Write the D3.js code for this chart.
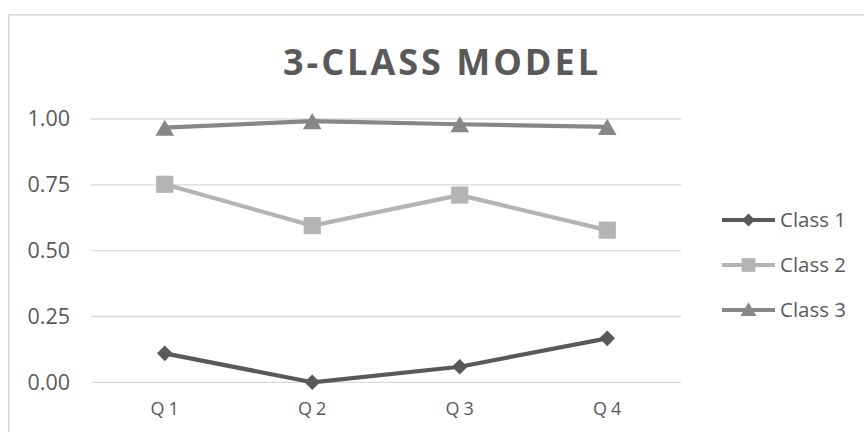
<!DOCTYPE html>
<html>
<head>
<meta charset="utf-8">
<script src="https://cdn.jsdelivr.net/npm/d3@7"></script>
<style>
  html, body { margin: 0; padding: 0; background: #fff; }
  svg { display: block; }
  text { font-family: "Open Sans", "Liberation Sans", sans-serif; fill: #595959; }
</style>
</head>
<body>
<svg id="chart" width="864" height="432"></svg>
<script>
// Data
const categories = ["Q1", "Q2", "Q3", "Q4"];
const seriesNames = ["Class 1", "Class 2", "Class 3"];
const class1 = [0.110, 0.000, 0.059, 0.167];
const class2 = [0.752, 0.595, 0.711, 0.578];
const class3 = [0.967, 0.992, 0.980, 0.970];
const yTicks = [0, 0.25, 0.5, 0.75, 1.0];
const title = "3-CLASS MODEL";

const seriesValues = [class1, class2, class3];
const seriesColors = ["#595959", "#b4b4b4", "#878787"];
const seriesSymbols = [d3.symbolDiamond2, d3.symbolSquare, d3.symbolTriangle];
const symbolSizes = [155, 295, 150];

// Triangles are drawn around their centroid; shift them so the box is centred.
const symbolOffset = (s) => s === 2 ? Math.sqrt(symbolSizes[2] / (Math.sqrt(3) * 3)) / 2 : 0;

const svg = d3.select("#chart");
const W = 864, H = 432;
const plot = { left: 91, right: 681, top: 119, bottom: 382.3 };

// Chart frame
svg.append("rect")
  .attr("x", 8.75).attr("y", 14.75)
  .attr("width", W).attr("height", H)
  .attr("fill", "none")
  .attr("stroke", "#d9d9d9")
  .attr("stroke-width", 1.5);

// Title
svg.append("text")
  .attr("x", 442).attr("y", 75)
  .attr("text-anchor", "middle")
  .style("font-size", "36px")
  .style("font-weight", "700")
  .style("letter-spacing", "3px")
  .text(title);

const x = d3.scaleBand().domain(categories).range([plot.left, plot.right]);
const y = d3.scaleLinear().domain([0, 1]).range([plot.bottom, plot.top]);
const cx = c => x(c) + x.bandwidth() / 2;

// Horizontal gridlines
svg.append("g")
  .selectAll("line")
  .data(yTicks)
  .join("line")
  .attr("x1", plot.left).attr("x2", plot.right)
  .attr("y1", d => y(d)).attr("y2", d => y(d))
  .attr("stroke", "#d9d9d9")
  .attr("stroke-width", 1.3);

// Y axis labels
const yAxis = d3.axisLeft(y).tickValues(yTicks).tickFormat(d3.format(".2f")).tickSize(0).tickPadding(21);
const gy = svg.append("g").attr("transform", `translate(${plot.left},0)`).call(yAxis);
gy.select(".domain").remove();
gy.selectAll("text")
  .style("font-size", "21.5px")
  .style("font-family", "\"Open Sans\", sans-serif")
  .attr("fill", "#595959");

// X axis labels
const xAxis = d3.axisBottom(x).tickSize(0).tickPadding(20);
const gx = svg.append("g").attr("transform", `translate(0,${plot.bottom})`).call(xAxis);
gx.select(".domain").remove();
gx.selectAll("text")
  .style("font-size", "18px")
  .style("letter-spacing", "4px")
  .style("font-family", "\"Open Sans\", sans-serif")
  .attr("dx", "2px")
  .attr("fill", "#595959");

// Series lines and markers
const line = d3.line().x((d, i) => cx(categories[i])).y(d => y(d));
seriesValues.forEach((vals, s) => {
  const g = svg.append("g");
  g.append("path")
    .datum(vals)
    .attr("d", line)
    .attr("fill", "none")
    .attr("stroke", seriesColors[s])
    .attr("stroke-width", 4.2)
    .attr("stroke-linejoin", "round");
  g.selectAll("path.m")
    .data(vals)
    .join("path")
    .attr("class", "m")
    .attr("transform", (d, i) => `translate(${cx(categories[i])},${y(d) + symbolOffset(s)})`)
    .attr("d", d3.symbol().type(seriesSymbols[s]).size(symbolSizes[s]))
    .attr("fill", seriesColors[s]);
});

// Legend
const legend = svg.append("g").attr("transform", "translate(722,0)");
const legendY = [220, 265, 310];
const legendSizes = [110, 190, 110];
seriesNames.forEach((name, s) => {
  const g = legend.append("g").attr("transform", `translate(0,${legendY[s]})`);
  g.append("line")
    .attr("x1", 0).attr("x2", 53)
    .attr("y1", 0).attr("y2", 0)
    .attr("stroke", seriesColors[s])
    .attr("stroke-width", 4);
  g.append("path")
    .attr("transform", `translate(26.5,${s === 2 ? 1.5 : 0})`)
    .attr("d", d3.symbol().type(seriesSymbols[s]).size(legendSizes[s]))
    .attr("fill", seriesColors[s]);
  g.append("text")
    .attr("x", 58).attr("y", 0)
    .attr("dy", "0.35em")
    .style("font-size", "20.5px")
    .text(name);
});
</script>
</body>
</html>
